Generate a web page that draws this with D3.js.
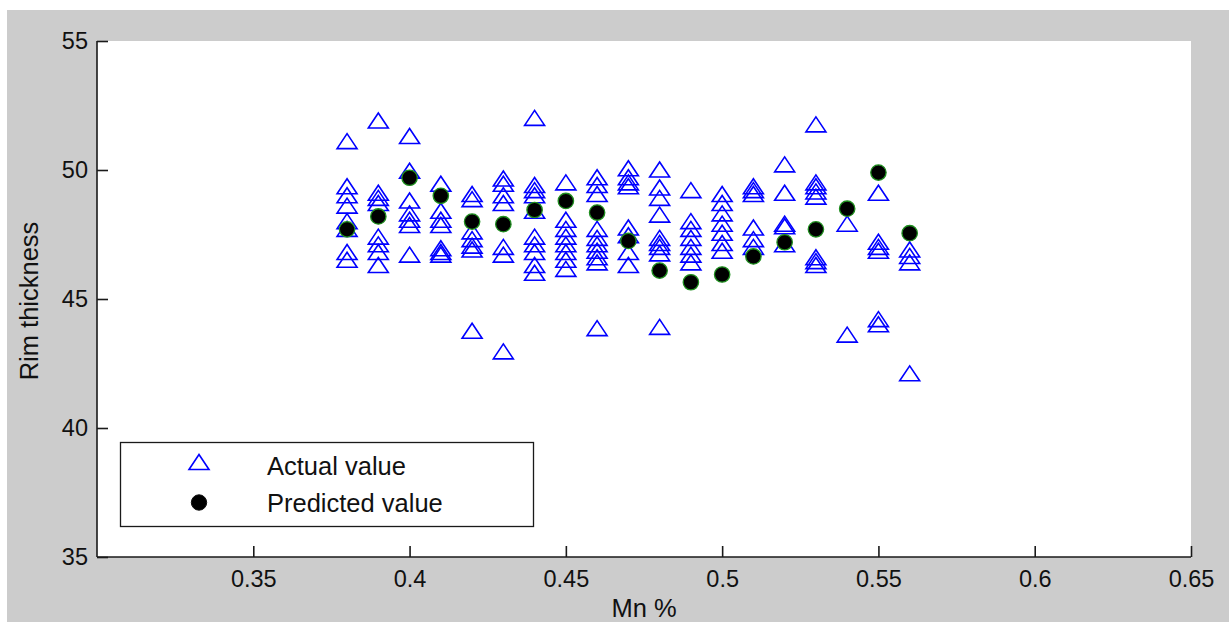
<!DOCTYPE html>
<html>
<head>
<meta charset="utf-8">
<script src="https://cdn.jsdelivr.net/npm/d3@7"></script>
<style>
  html, body { margin: 0; padding: 0; background: #ffffff; }
  svg { display: block; }
  text { font-family: Arial, "Liberation Sans", Helvetica, sans-serif; fill: #111; }
</style>
</head>
<body>
<svg id="chart" width="1229" height="622"></svg>
<script>
// ---------------- data ----------------
const mnLevels = [0.38, 0.39, 0.40, 0.41, 0.42, 0.43, 0.44, 0.45, 0.46, 0.47,
                  0.48, 0.49, 0.50, 0.51, 0.52, 0.53, 0.54, 0.55, 0.56];

const actualValues = [
  [51.1, 49.35, 49.0, 48.6, 48.0, 47.7, 46.8, 46.5],            // 0.38
  [51.9, 49.1, 48.9, 48.7, 47.4, 47.1, 46.8, 46.3],             // 0.39
  [51.3, 49.95, 48.8, 48.3, 48.05, 47.85, 46.7],                // 0.40
  [49.45, 48.4, 48.05, 47.85, 46.95, 46.8, 46.7],               // 0.41
  [49.05, 48.85, 47.6, 47.3, 47.05, 46.9, 43.75],               // 0.42
  [49.65, 49.45, 49.0, 48.7, 47.0, 46.7, 42.95],                // 0.43
  [52.0, 49.4, 49.2, 49.0, 48.4, 47.4, 47.1, 46.8, 46.3, 46.0], // 0.44
  [49.5, 48.05, 47.7, 47.4, 47.1, 46.8, 46.5, 46.15],           // 0.45
  [49.7, 49.4, 49.05, 47.7, 47.35, 47.1, 46.85, 46.6, 46.4, 43.85], // 0.46
  [50.05, 49.7, 49.5, 49.35, 47.75, 47.45, 46.8, 46.3],         // 0.47
  [50.0, 49.3, 48.9, 48.25, 47.35, 47.15, 47.0, 46.75, 43.9],   // 0.48
  [49.2, 48.0, 47.7, 47.35, 47.0, 46.7, 46.4],                  // 0.49
  [49.05, 48.7, 48.3, 47.9, 47.55, 47.15, 46.85],               // 0.50
  [49.35, 49.2, 49.05, 47.75, 47.3, 47.0],                      // 0.51
  [50.2, 49.1, 47.9, 47.8, 47.1],                               // 0.52
  [51.75, 49.5, 49.35, 49.15, 48.95, 46.6, 46.45, 46.3],        // 0.53
  [47.9, 43.6],                                                 // 0.54
  [49.1, 47.2, 47.0, 46.85, 44.2, 44.0],                        // 0.55
  [46.9, 46.65, 46.4, 42.1]                                     // 0.56
];

const predictedValues = [47.7, 48.2, 49.7, 49.0, 48.0, 47.9, 48.45, 48.8, 48.35, 47.25,
                         46.1, 45.65, 45.95, 46.65, 47.2, 47.7, 48.5, 49.9, 47.55];

const xTicks = [0.35, 0.40, 0.45, 0.50, 0.55, 0.60, 0.65];
const xTickLabels = ["0.35", "0.4", "0.45", "0.5", "0.55", "0.6", "0.65"];
const yTicks = [35, 40, 45, 50, 55];
const legendLabels = ["Actual value", "Predicted value"];
const xTitle = "Mn %";
const yTitle = "Rim thickness";

// ---------------- layout ----------------
const svg = d3.select("#chart");
const W = 1229, H = 622;
const plot = { left: 97, right: 1191, top: 41, bottom: 557 };

svg.append("rect").attr("x", 0).attr("y", 0).attr("width", W).attr("height", H).attr("fill", "#ffffff");
svg.append("rect").attr("x", 7).attr("y", 10).attr("width", W - 7).attr("height", H - 10).attr("fill", "#cccccc");
svg.append("rect").attr("x", plot.left).attr("y", plot.top)
   .attr("width", plot.right - plot.left).attr("height", plot.bottom - plot.top).attr("fill", "#ffffff");

const x = d3.scaleLinear().domain([0.30, 0.65]).range([plot.left, plot.right]);
const y = d3.scaleLinear().domain([35, 55]).range([plot.bottom, plot.top]);

// ---------------- axes ----------------
const xAxis = d3.axisBottom(x).tickValues(xTicks).tickSize(-11).tickPadding(13)
  .tickFormat((d, i) => xTickLabels[i]);
const yAxis = d3.axisLeft(y).tickValues(yTicks).tickSize(-11).tickPadding(9)
  .tickFormat(d3.format("d"));

const gx = svg.append("g").attr("transform", `translate(0,${plot.bottom})`).call(xAxis);
const gy = svg.append("g").attr("transform", `translate(${plot.left},0)`).call(yAxis);

[gx, gy].forEach(g => {
  g.select(".domain").attr("stroke", "#1a1a1a").attr("stroke-width", 1.6);
  g.selectAll(".tick line").attr("stroke", "#1a1a1a").attr("stroke-width", 1.6);
  g.selectAll(".tick text").attr("fill", "#111").style("font-size", "23.5px")
    .style("font-family", "Arial, 'Liberation Sans', sans-serif");
});
gx.select(".domain").attr("d", `M${plot.left},0H${plot.right}`);
gy.select(".domain").attr("d", `M0,${plot.bottom}V${plot.top}`);

// axis titles
svg.append("text").attr("x", (plot.left + plot.right) / 2).attr("y", 617)
  .attr("text-anchor", "middle").style("font-size", "25.5px").text(xTitle);
svg.append("text").attr("transform", `translate(38,${(plot.top + plot.bottom) / 2 + 2}) rotate(-90)`)
  .attr("text-anchor", "middle").style("font-size", "25.5px").text(yTitle);

// ---------------- marks ----------------
const tri = "M0,-8L10,7L-10,7Z";

const actualPts = [];
mnLevels.forEach((m, i) => actualValues[i].forEach(v => actualPts.push({ m, v })));

svg.append("g").selectAll("path").data(actualPts).join("path")
  .attr("d", tri)
  .attr("transform", d => `translate(${x(d.m)},${y(d.v)})`)
  .attr("fill", "none").attr("stroke", "#0000ff").attr("stroke-width", 1.6);

svg.append("g").selectAll("circle").data(mnLevels).join("circle")
  .attr("cx", d => x(d))
  .attr("cy", (d, i) => y(predictedValues[i]))
  .attr("r", 7.7)
  .attr("fill", "#000000").attr("stroke", "#1f8f1f").attr("stroke-width", 1.3);

// ---------------- legend ----------------
const lg = svg.append("g");
lg.append("rect").attr("x", 120.5).attr("y", 442.5).attr("width", 413).attr("height", 84)
  .attr("fill", "#ffffff").attr("stroke", "#1a1a1a").attr("stroke-width", 1.3);
lg.append("path").attr("d", tri).attr("transform", "translate(199,462.5)")
  .attr("fill", "none").attr("stroke", "#0000ff").attr("stroke-width", 1.6);
lg.append("circle").attr("cx", 199).attr("cy", 502.5).attr("r", 7.7)
  .attr("fill", "#000").attr("stroke", "#111").attr("stroke-width", 1);
lg.append("text").attr("x", 267).attr("y", 475).style("font-size", "25.5px").text(legendLabels[0]);
lg.append("text").attr("x", 267).attr("y", 512).style("font-size", "25.5px").text(legendLabels[1]);
</script>
</body>
</html>
